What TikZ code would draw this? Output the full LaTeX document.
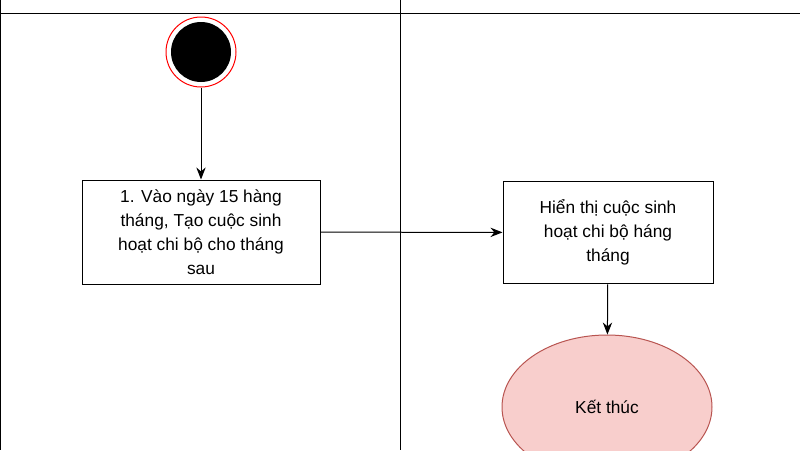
\documentclass[tikz,border=0pt]{standalone}
\usepackage{fontspec}
\setmainfont{Liberation Sans}
\usetikzlibrary{shapes.geometric,arrows.meta}
\tikzset{every picture/.style={line width=0.75pt}}
\begin{document}
\begin{tikzpicture}[x=0.75pt,y=0.75pt,yscale=-1,xscale=1]
        \useasboundingbox (0,0) rectangle (800,450);

        %Swimlanes
        \draw (0,13) -- (800,13) ;
        \draw (0.5,0) -- (0.5,450) ;
        \draw (400,0) -- (400,450) ;

        %Start
        \node (start) [circle, draw={rgb,255:red,255;green,0;blue,0}, fill=white, minimum size=52.5pt, inner sep=0pt] at (201,52) {};
        \node [circle, fill=black, minimum size=45pt, inner sep=0pt] at (start) {};

        % Text Node
        \node (create) [draw, fill=white, minimum width=178.5pt, minimum height=78pt, align=center, inner sep=0.75pt, font=\fontsize{13}{18}\selectfont] at (201,232) {1. Vào ngày 15 hàng\\tháng, Tạo cuộc sinh\\hoạt chi bộ cho tháng\\sau};
        % Text Node
        \node (show) [draw, fill=white, minimum width=157.5pt, minimum height=77pt, align=center, inner sep=0.75pt, font=\fontsize{13}{18}\selectfont] at (608,232.5) {Hiển thị cuộc sinh\\hoạt chi bộ háng\\tháng};
        % End
        \node (end) [ellipse, draw={rgb,255:red,184;green,84;blue,80}, fill={rgb,255:red,248;green,206;blue,204}, minimum width=157.5pt, minimum height=108pt, inner sep=0pt, font=\fontsize{13}{18}\selectfont] at (607,407) {Kết thúc};

        %Connectors
        \draw [-{Stealth[length=9pt,width=7pt]}] (start) -- (create) ;
        \draw [-{Stealth[length=9pt,width=7pt]}] (create) -- (show) ;
        \draw [-{Stealth[length=9pt,width=7pt]}] (show) -- (end) ;

    \end{tikzpicture}
\end{document}
